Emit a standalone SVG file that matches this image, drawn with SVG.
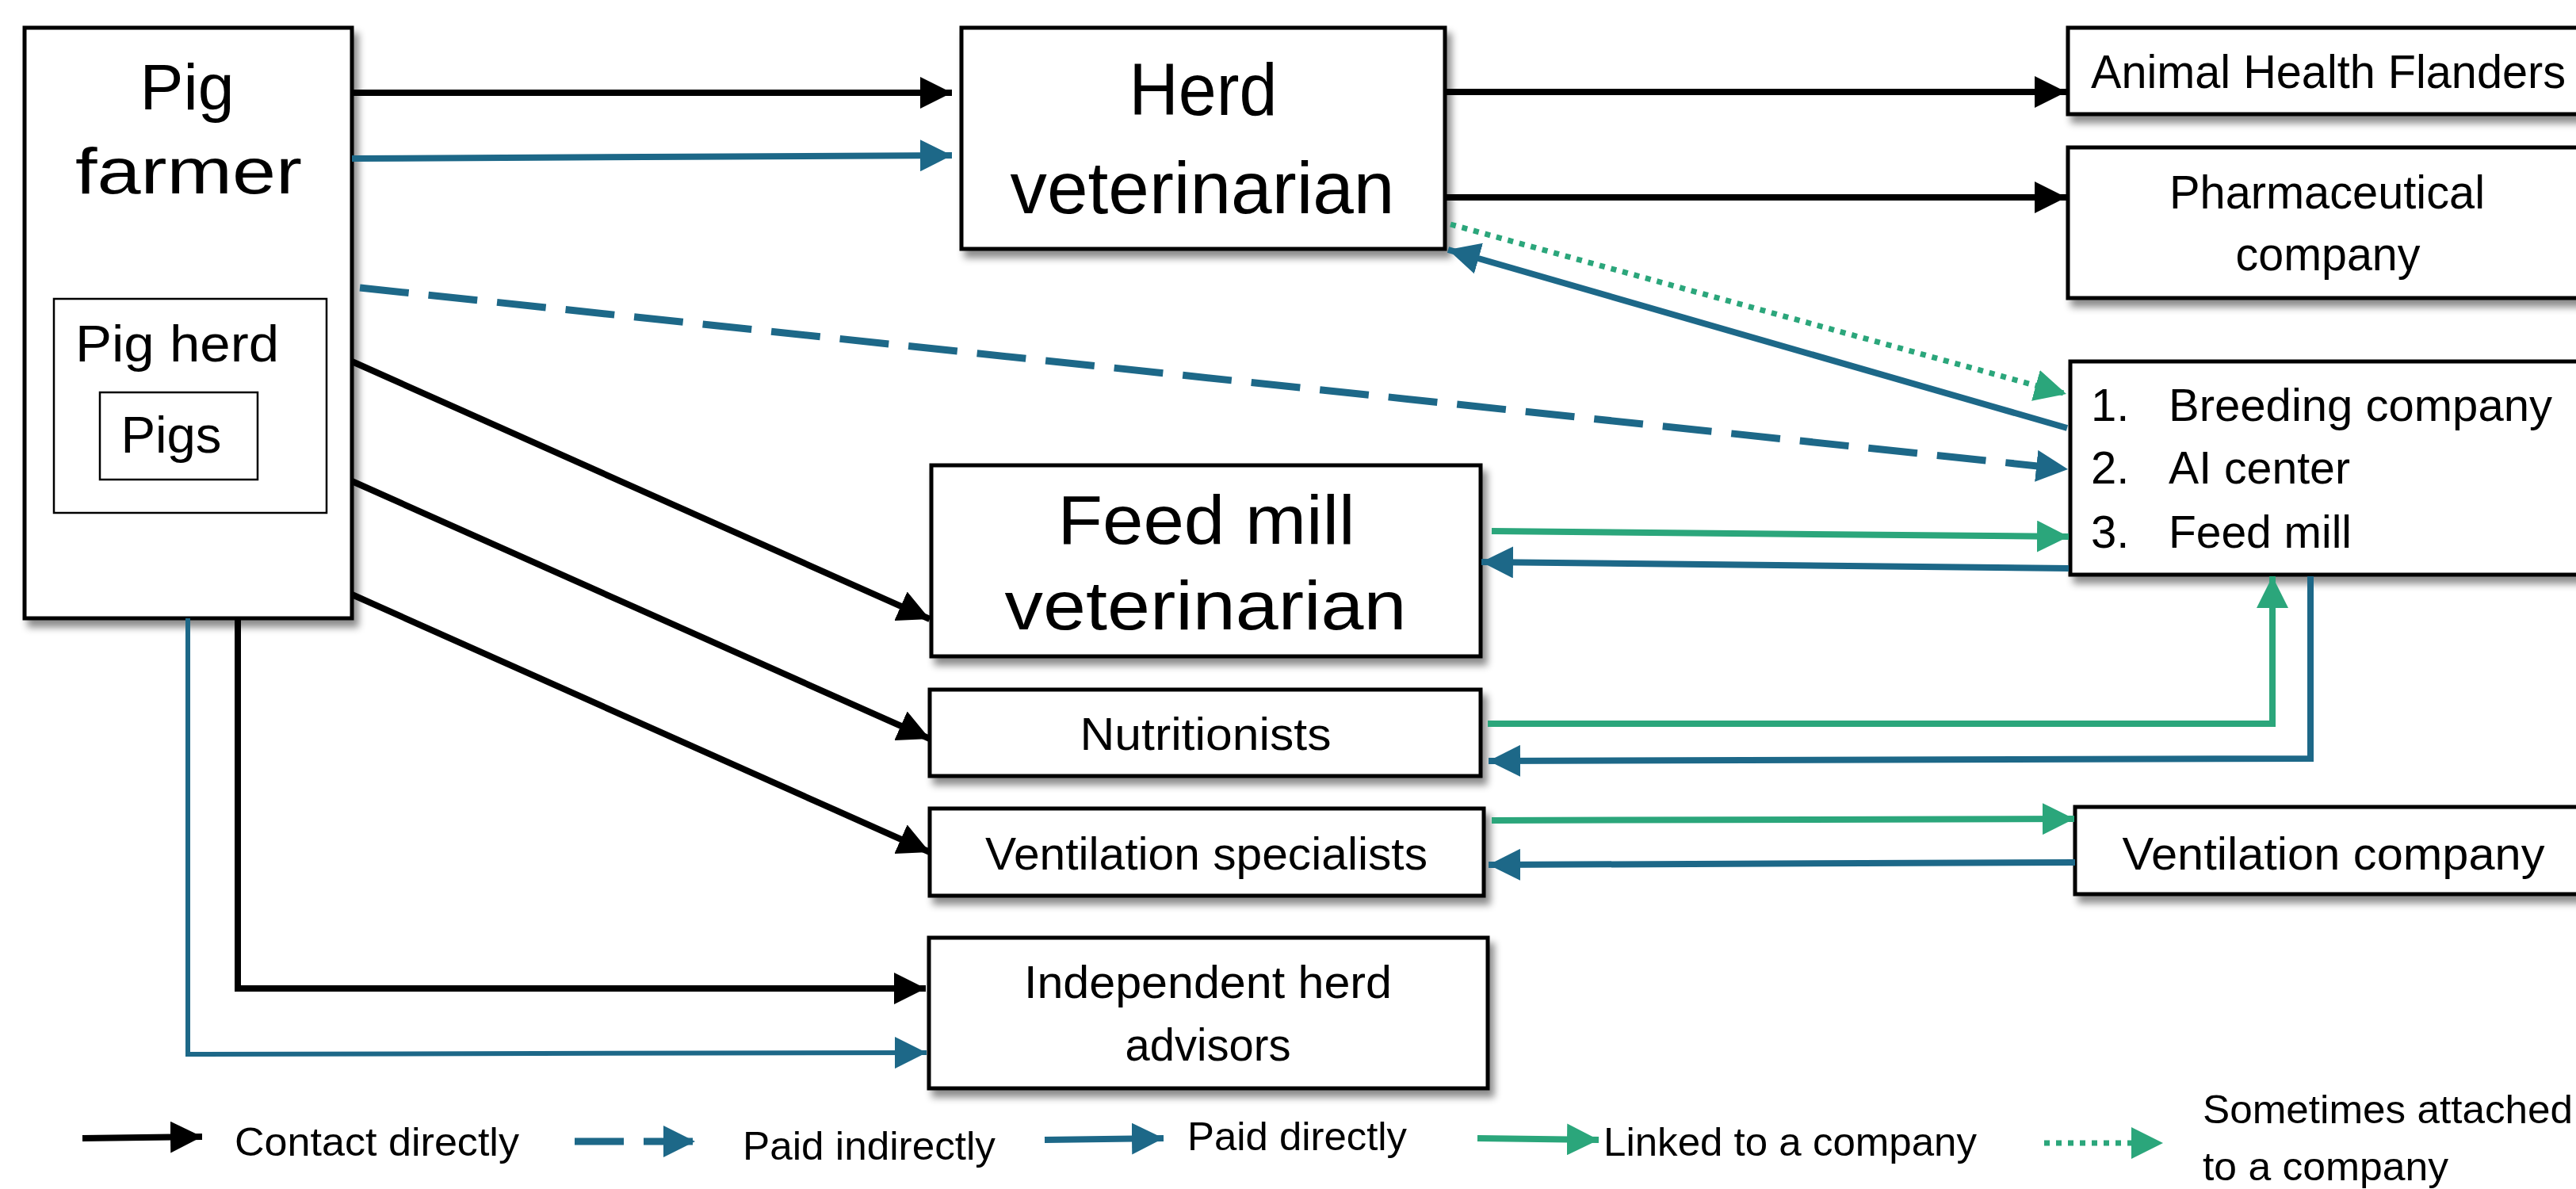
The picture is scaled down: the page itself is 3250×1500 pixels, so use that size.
<svg xmlns="http://www.w3.org/2000/svg" width="3250" height="1500" viewBox="0 0 3250 1500">
<defs>
<filter id="sh" x="-10%" y="-10%" width="130%" height="140%">
<feDropShadow dx="6" dy="9" stdDeviation="5" flood-color="#000" flood-opacity="0.45"/>
</filter>
<marker id="hk" viewBox="0 0 40 40" refX="40" refY="20" markerWidth="40" markerHeight="40" markerUnits="userSpaceOnUse" orient="auto"><path d="M0,0 L40,20 L0,40 Z" fill="#000"/></marker>
<marker id="hb" viewBox="0 0 40 40" refX="40" refY="20" markerWidth="40" markerHeight="40" markerUnits="userSpaceOnUse" orient="auto"><path d="M0,0 L40,20 L0,40 Z" fill="#1d6888"/></marker>
<marker id="hg" viewBox="0 0 40 40" refX="40" refY="20" markerWidth="40" markerHeight="40" markerUnits="userSpaceOnUse" orient="auto"><path d="M0,0 L40,20 L0,40 Z" fill="#2ba67b"/></marker>
</defs>
<style>
.box{fill:#fff;stroke:#000;stroke-width:5;filter:url(#sh)}
.ibox{fill:#fff;stroke:#000;stroke-width:2.5}
text{font-family:"Liberation Sans",Arial,sans-serif;fill:#000}
.c{text-anchor:middle}
.k{fill:none;stroke:#000;stroke-width:8;marker-end:url(#hk)}
.b{fill:none;stroke:#1d6888;stroke-width:8;marker-end:url(#hb)}
.bd{fill:none;stroke:#1d6888;stroke-width:9;stroke-dasharray:62 25;marker-end:url(#hb)}
.g{fill:none;stroke:#2ba67b;stroke-width:8;marker-end:url(#hg)}
.gd{fill:none;stroke:#2ba67b;stroke-width:7;stroke-dasharray:7 8;marker-end:url(#hg)}
</style>
<rect width="3250" height="1500" fill="#fff"/>

<g id="pig-farmer">
<rect class="box" x="31" y="35" width="413" height="745"/>
<text class="c" x="236" y="138" font-size="82" textLength="119" lengthAdjust="spacingAndGlyphs">Pig</text>
<text class="c" x="238" y="244" font-size="82" textLength="286" lengthAdjust="spacingAndGlyphs">farmer</text>
<g id="pig-herd">
<rect class="ibox" x="68" y="377" width="344" height="270"/>
<text x="95" y="456" font-size="64" textLength="257" lengthAdjust="spacingAndGlyphs">Pig herd</text>
</g>
<g id="pigs">
<rect class="ibox" x="126" y="495" width="199" height="110"/>
<text class="c" x="216" y="571" font-size="64" textLength="127" lengthAdjust="spacingAndGlyphs">Pigs</text>
</g>
</g>

<g id="herd-veterinarian">
<rect class="box" x="1213" y="35" width="610" height="279"/>
<text class="c" x="1518" y="145" font-size="92" textLength="187" lengthAdjust="spacingAndGlyphs">Herd</text>
<text class="c" x="1517" y="269" font-size="92" textLength="485" lengthAdjust="spacingAndGlyphs">veterinarian</text>
</g>

<g id="animal-health-flanders">
<rect class="box" x="2609" y="35" width="660" height="109"/>
<text x="2638" y="111" font-size="59" textLength="599" lengthAdjust="spacingAndGlyphs">Animal Health Flanders</text>
</g>

<g id="pharmaceutical-company">
<rect class="box" x="2609" y="186" width="660" height="190"/>
<text class="c" x="2936" y="263" font-size="60" textLength="398" lengthAdjust="spacingAndGlyphs">Pharmaceutical</text>
<text class="c" x="2937" y="341" font-size="60" textLength="233" lengthAdjust="spacingAndGlyphs">company</text>
</g>

<g id="companies">
<rect class="box" x="2612" y="456" width="660" height="269"/>
<text x="2638" y="531" font-size="58">1.</text>
<text x="2736" y="531" font-size="58" textLength="484" lengthAdjust="spacingAndGlyphs">Breeding company</text>
<text x="2638" y="610" font-size="58">2.</text>
<text x="2736" y="610" font-size="58" textLength="229" lengthAdjust="spacingAndGlyphs">AI center</text>
<text x="2638" y="691" font-size="58">3.</text>
<text x="2736" y="691" font-size="58" textLength="231" lengthAdjust="spacingAndGlyphs">Feed mill</text>
</g>

<g id="feed-mill-veterinarian">
<rect class="box" x="1175" y="587" width="693" height="241"/>
<text class="c" x="1522" y="686" font-size="88" textLength="375" lengthAdjust="spacingAndGlyphs">Feed mill</text>
<text class="c" x="1521" y="794" font-size="88" textLength="507" lengthAdjust="spacingAndGlyphs">veterinarian</text>
</g>

<g id="nutritionists">
<rect class="box" x="1173" y="870" width="695" height="109"/>
<text class="c" x="1521" y="946" font-size="58" textLength="317" lengthAdjust="spacingAndGlyphs">Nutritionists</text>
</g>

<g id="ventilation-specialists">
<rect class="box" x="1173" y="1020" width="699" height="110"/>
<text class="c" x="1522" y="1097" font-size="58" textLength="558" lengthAdjust="spacingAndGlyphs">Ventilation specialists</text>
</g>

<g id="ventilation-company">
<rect class="box" x="2618" y="1018" width="660" height="110"/>
<text class="c" x="2944" y="1097" font-size="58" textLength="533" lengthAdjust="spacingAndGlyphs">Ventilation company</text>
</g>

<g id="independent-herd-advisors">
<rect class="box" x="1172" y="1183" width="705" height="190"/>
<text class="c" x="1524" y="1259" font-size="58" textLength="464" lengthAdjust="spacingAndGlyphs">Independent herd</text>
<text class="c" x="1524" y="1338" font-size="58" textLength="209" lengthAdjust="spacingAndGlyphs">advisors</text>
</g>

<g id="connectors">
<path class="k" d="M444,117 L1201,117"/>
<path class="b" d="M444,200 L1201,196"/>
<path class="bd" d="M454,363 L2609,592"/>
<path class="k" d="M444,456 L1173,781"/>
<path class="k" d="M444,607 L1173,932"/>
<path class="k" d="M444,750 L1173,1075"/>
<path class="k" d="M300,780 L300,1247 L1168,1247"/>
<path class="b" style="stroke-width:6" d="M237,780 L237,1330 L1169,1328"/>
<path class="k" d="M1824,116 L2607,116"/>
<path class="k" d="M1824,249 L2607,249"/>
<path class="gd" d="M1830,283 L2607,497"/>
<path class="b" d="M2608,540 L1827,315"/>
<path class="g" d="M1882,670 L2610,677"/>
<path class="b" d="M2610,717 L1869,709"/>
<path class="g" d="M1877,913 L2867,913 L2867,727"/>
<path class="b" d="M2915,727 L2915,957 L1878,960"/>
<path class="g" d="M1882,1035 L2617,1033"/>
<path class="b" d="M2618,1088 L1878,1091"/>
</g>

<g id="legend">
<path class="k" d="M104,1436 L255,1434"/>
<text x="296" y="1458" font-size="50" textLength="359" lengthAdjust="spacingAndGlyphs">Contact directly</text>
<path class="bd" d="M725,1440 L877,1440"/>
<text x="937" y="1463" font-size="50" textLength="319" lengthAdjust="spacingAndGlyphs">Paid indirectly</text>
<path class="b" d="M1318,1438 L1468,1436"/>
<text x="1498" y="1451" font-size="50" textLength="277" lengthAdjust="spacingAndGlyphs">Paid directly</text>
<path class="g" d="M1864,1436 L2017,1438"/>
<text x="2023" y="1458" font-size="50" textLength="471" lengthAdjust="spacingAndGlyphs">Linked to a company</text>
<path class="gd" d="M2579,1442 L2729,1442"/>
<text x="2779" y="1417" font-size="50" textLength="467" lengthAdjust="spacingAndGlyphs">Sometimes attached</text>
<text x="2779" y="1489" font-size="50" textLength="310" lengthAdjust="spacingAndGlyphs">to a company</text>
</g>
</svg>
